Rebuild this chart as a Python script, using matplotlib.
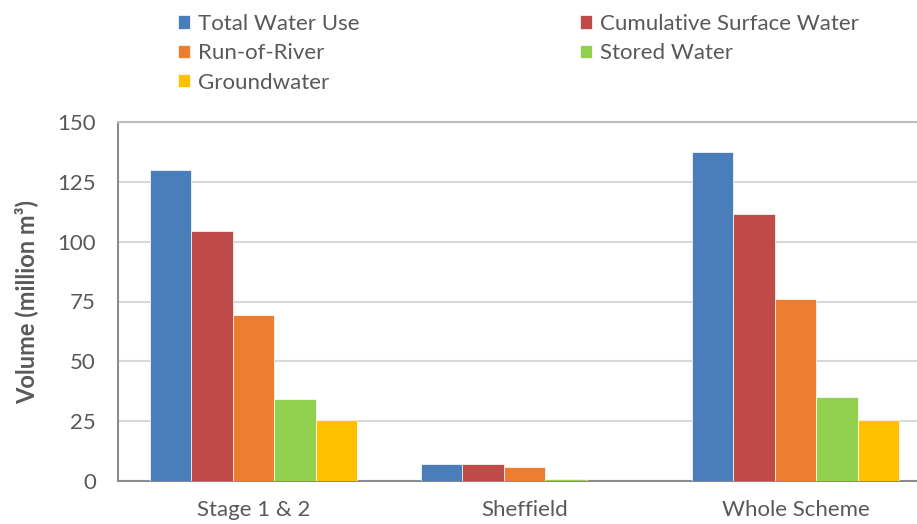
import numpy as np
import matplotlib.pyplot as plt

plt.rcParams['font.family'] = ['Lato', 'DejaVu Sans']

categories = ['Stage 1 & 2', 'Sheffield', 'Whole Scheme']
series = ['Total Water Use', 'Cumulative Surface Water', 'Run-of-River',
          'Stored Water', 'Groundwater']
total_use = [130.0, 7.1, 137.5]
surface = [104.5, 7.1, 111.4]
run_of_river = [69.4, 6.0, 75.9]
stored = [34.3, 0.7, 35.2]
groundwater = [25.5, 0.0, 25.5]
colors = ['#4A7EBB', '#BE4B48', '#ED7D31', '#92D050', '#FFC000']

values = [total_use, surface, run_of_river, stored, groundwater]
grey = '#595959'

fig = plt.figure(figsize=(9.17, 5.24), dpi=100)
# plot area runs a little past the right edge of the figure
ax = fig.add_axes([118/917, 1 - 481/524, (931 - 118)/917, (481 - 122)/524])

x = np.arange(len(categories))
w = 0.1535
bars = []
for i, (name, vals) in enumerate(zip(series, values)):
    b = ax.bar(x + (i - 2) * w, vals, w, color=colors[i], label=name,
               edgecolor='white', linewidth=0.5, zorder=3)
    bars.append(b)

ax.set_xlim(-0.5, 2.5)
ax.set_ylim(0, 150)
ax.set_yticks(range(0, 151, 25))
ax.set_xticks(x)
ax.set_xticklabels(categories)
ax.yaxis.grid(True, color='#D9D9D9', linewidth=1.5, zorder=0)
ax.tick_params(length=0, labelsize=16, colors=grey)
ax.tick_params(axis='y', pad=16)
ax.tick_params(axis='x', pad=14)
for s in ['left', 'bottom', 'top']:
    ax.spines[s].set_color('#8C8C8C')
    ax.spines[s].set_linewidth(1.5)
ax.spines['top'].set_color('#BFBFBF')
ax.spines['right'].set_visible(False)

ax.set_ylabel('Volume (million m³)', fontsize=17, fontweight='bold',
              color=grey, labelpad=14)

order = [0, 2, 4, 1, 3]
fig.legend([bars[k] for k in order], [series[k] for k in order],
           ncol=2, loc='upper left', bbox_to_anchor=(158/917, 1 + 6/524),
           frameon=False, fontsize=16, labelcolor=grey,
           handlelength=0.55, handleheight=0.55, handletextpad=0.35,
           columnspacing=9.9, labelspacing=0.42)

fig.savefig('out.png', dpi=100)
